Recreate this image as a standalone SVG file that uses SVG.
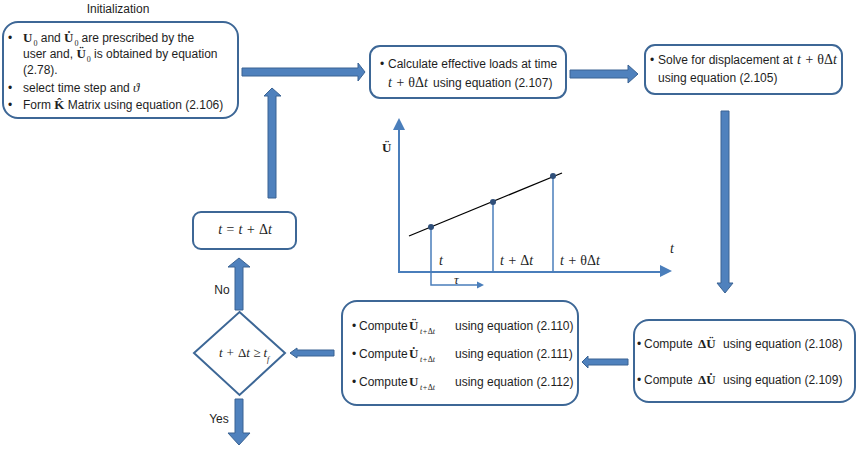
<svg xmlns="http://www.w3.org/2000/svg" width="857" height="449" viewBox="0 0 857 449">
<style>
.box{fill:#fff;stroke:#3d6796;stroke-width:2}
.ba{fill:#4f81bd;stroke:#3a6393;stroke-width:1}
.t{font-family:"Liberation Sans",Arial,sans-serif;font-size:12px;fill:#1e1e1e}
.m{font-family:"Liberation Serif","Times New Roman",serif;font-style:italic;fill:#1e1e1e}
.up{font-family:"Liberation Serif","Times New Roman",serif;font-style:normal}
.vb{font-family:"Liberation Serif","Times New Roman",serif;font-weight:bold;font-size:13px;fill:#1e1e1e}
.sub{font-family:"Liberation Serif","Times New Roman",serif;font-size:8px;fill:#1e1e1e}
.ax{stroke:#4a7ebb;stroke-width:2;fill:none}
.vl{stroke:#4a7ebb;stroke-width:1.5;fill:none}
.ah{fill:#4a7ebb}
</style>
<rect width="857" height="449" fill="#fff"/>

<g id="connectors">
  <polygon class="ba" points="242,68 358,68 358,63 365,72 358,81 358,76 242,76"/>
  <polygon class="ba" points="570,70 628,70 628,65 638,74 628,83 628,78 570,78"/>
  <polygon class="ba" points="721,111 729,111 729,283 733,283 725,293 717,283 721,283"/>
  <polygon class="ba" points="628,359 588,359 588,356 582,362 588,368 588,365 628,365"/>
  <polygon class="ba" points="334,350 297,350 297,348 290,353 297,358 297,356 334,356"/>
  <polygon class="ba" points="235,310 235,267 228,267 239,258 250,267 243,267 243,310"/>
  <polygon class="ba" points="235,399 243,399 243,433 250,433 239,445 228,433 235,433"/>
  <polygon class="ba" points="268,198 268,96 264,96 272,88 281,96 276,96 276,198"/>
</g>

<g id="initialization">
  <text class="t" x="118" y="13" text-anchor="middle">Initialization</text>
  <rect class="box" x="3" y="22" width="235" height="96" rx="15"/>
  <text class="t" x="8" y="42">•</text>
  <text class="t" x="23" y="42"><tspan class="vb">U</tspan><tspan class="sub" dx="1" dy="4">0</tspan><tspan dy="-4"> and </tspan><tspan class="vb">U̇</tspan><tspan class="sub" dx="1" dy="4">0</tspan><tspan dx="3" dy="-4">are prescribed by the</tspan></text>
  <text class="t" x="23" y="58">user and, <tspan class="vb">Ü</tspan><tspan class="sub" dx="1" dy="4">0</tspan><tspan dy="-4"> is obtained by equation</tspan></text>
  <text class="t" x="23" y="74">(2.78).</text>
  <text class="t" x="8" y="92">•</text>
  <text class="t" x="23" y="92">select time step and <tspan class="m" font-size="13">ϑ</tspan></text>
  <text class="t" x="8" y="109">•</text>
  <text class="t" x="23" y="109">Form <tspan class="vb">K̂</tspan> Matrix using equation (2.106)</text>
</g>

<g id="calc-loads">
  <rect class="box" x="370" y="46" width="196" height="52" rx="10"/>
  <text class="t" x="380" y="68">•</text>
  <text class="t" x="388" y="68">Calculate effective loads at time</text>
  <text class="m" x="388" y="87" font-size="14">t + <tspan class="up">θΔ</tspan>t</text>
  <text class="t" x="433" y="87">using equation (2.107)</text>
</g>

<g id="solve-disp">
  <rect class="box" x="645" y="45" width="197" height="49" rx="10"/>
  <text class="t" x="650" y="64">•</text>
  <text class="t" x="658" y="64">Solve for displacement at</text>
  <text class="m" x="797" y="64" font-size="14">t + <tspan class="up">θΔ</tspan>t</text>
  <text class="t" x="658" y="82">using equation (2.105)</text>
</g>

<g id="graph">
  <line class="ax" x1="399" y1="273" x2="399" y2="128"/>
  <polygon class="ah" points="393,130 399,118 405,130"/>
  <line class="ax" x1="398" y1="272" x2="662" y2="272"/>
  <polygon class="ah" points="660,265 672,271 660,277"/>
  <line x1="409" y1="236" x2="562" y2="173" stroke="#000" stroke-width="1.3"/>
  <polyline class="vl" points="431,227 431,285 478,285"/>
  <polygon class="ah" points="477,281.5 484,285 477,288.5"/>
  <line class="vl" x1="493" y1="202" x2="493" y2="272"/>
  <line class="vl" x1="553" y1="176" x2="553" y2="272"/>
  <circle cx="431" cy="227" r="3" fill="#2f4f7a"/>
  <circle cx="493" cy="202" r="3" fill="#2f4f7a"/>
  <circle cx="553" cy="176" r="3" fill="#2f4f7a"/>
  <text class="vb" x="382" y="152" font-size="15">Ü</text>
  <text class="m" x="439" y="265" font-size="14">t</text>
  <text class="m" x="500" y="265" font-size="14">t + <tspan class="up">Δ</tspan>t</text>
  <text class="m" x="560" y="265" font-size="14">t + <tspan class="up">θΔ</tspan>t</text>
  <text class="m" x="670" y="253" font-size="14">t</text>
  <text class="m" x="454" y="284" font-size="13">τ</text>
</g>

<g id="compute-delta">
  <rect class="box" x="634" y="320" width="221" height="82" rx="15"/>
  <text class="t" x="637" y="348">•</text>
  <text class="t" x="644" y="348">Compute</text>
  <text class="vb" x="698" y="348"><tspan class="up">Δ</tspan>Ü</text>
  <text class="t" x="723" y="348">using equation (2.108)</text>
  <text class="t" x="637" y="384">•</text>
  <text class="t" x="644" y="384">Compute</text>
  <text class="vb" x="698" y="384"><tspan class="up">Δ</tspan>U̇</text>
  <text class="t" x="723" y="384">using equation (2.109)</text>
</g>

<g id="compute-u">
  <rect class="box" x="342" y="301" width="236" height="104" rx="15"/>
  <text class="t" x="352" y="330">•</text>
  <text class="t" x="359" y="330" font-size="11">Compute</text>
  <text class="vb" x="409" y="330">Ü</text><text class="sub m" x="420" y="334">t+<tspan class="up">Δ</tspan>t</text>
  <text class="t" x="455" y="330">using equation (2.110)</text>
  <text class="t" x="352" y="358">•</text>
  <text class="t" x="359" y="358" font-size="11">Compute</text>
  <text class="vb" x="409" y="358">U̇</text><text class="sub m" x="420" y="362">t+<tspan class="up">Δ</tspan>t</text>
  <text class="t" x="455" y="358">using equation (2.111)</text>
  <text class="t" x="352" y="386">•</text>
  <text class="t" x="359" y="386" font-size="11">Compute</text>
  <text class="vb" x="409" y="386">U</text><text class="sub m" x="420" y="390">t+<tspan class="up">Δ</tspan>t</text>
  <text class="t" x="455" y="386">using equation (2.112)</text>
</g>

<g id="decision">
  <polygon class="box" points="239.5,312 285,353 239.5,395 194,353"/>
  <text class="m" x="219" y="357" font-size="13">t + <tspan class="up">Δ</tspan>t ≥ t</text>
  <text class="sub m" x="267" y="362" font-size="9">f</text>
  <text class="t" x="222" y="294" text-anchor="middle">No</text>
  <text class="t" x="219" y="423" text-anchor="middle">Yes</text>
</g>

<g id="increment">
  <rect class="box" x="193" y="212" width="103" height="37" rx="8"/>
  <text class="m" x="245" y="234" font-size="14" text-anchor="middle">t = t + <tspan class="up">Δ</tspan>t</text>
</g>
</svg>
